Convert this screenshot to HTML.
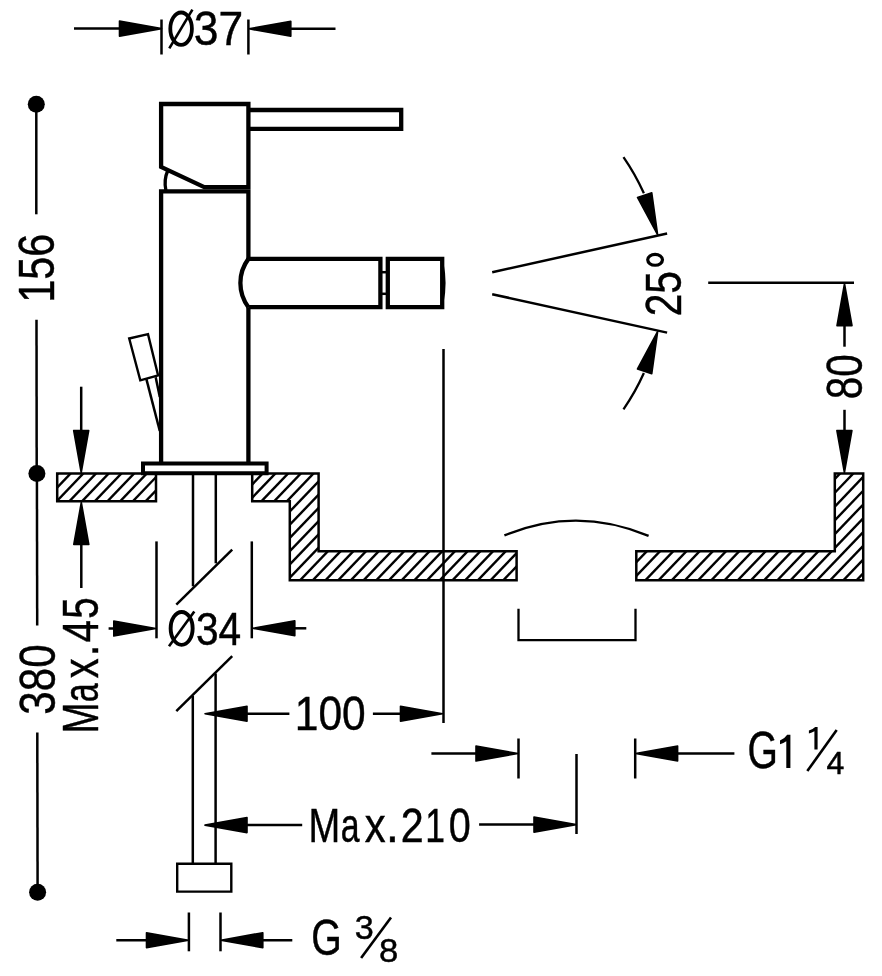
<!DOCTYPE html>
<html><head><meta charset="utf-8"><title>drawing</title>
<style>html,body{margin:0;padding:0;background:#fff;}body{width:882px;height:976px;overflow:hidden;font-family:"Liberation Sans",sans-serif;}svg{display:block;filter:grayscale(1);}</style>
</head><body>
<svg width="882" height="976" viewBox="0 0 882 976"><defs><clipPath id="c0"><polygon points="57.20,473.50 156.00,473.50 156.00,501.30 57.20,501.30"/></clipPath><clipPath id="c1"><polygon points="252.20,473.50 318.60,473.50 318.60,551.20 516.60,551.20 516.60,580.20 289.80,580.20 289.80,501.30 252.20,501.30"/></clipPath><clipPath id="c2"><polygon points="636.30,551.20 834.80,551.20 834.80,473.40 863.20,473.40 863.20,580.20 636.30,580.20"/></clipPath></defs><rect width="882" height="976" fill="#fff"/><g stroke="#000" fill="none" font-family="&quot;Liberation Sans&quot;, sans-serif"><line x1="74.00" y1="28.60" x2="130.00" y2="28.60" stroke-width="2.5" stroke-linecap="butt"/>
<polygon points="161.50,28.60 119.50,36.10 119.50,21.10" fill="#000" stroke-width="1.6" stroke-linejoin="round"/>
<line x1="161.50" y1="19.50" x2="161.50" y2="54.50" stroke-width="2.5" stroke-linecap="butt"/>
<line x1="248.40" y1="19.50" x2="248.40" y2="54.50" stroke-width="2.5" stroke-linecap="butt"/>
<polygon points="248.80,28.80 290.80,21.30 290.80,36.30" fill="#000" stroke-width="1.6" stroke-linejoin="round"/>
<line x1="280.00" y1="28.80" x2="335.50" y2="28.80" stroke-width="2.5" stroke-linecap="butt"/>
<ellipse cx="181.1" cy="28.7" rx="10.8" ry="16.2" stroke-width="3.8"/>
<line x1="169.30" y1="48.40" x2="192.40" y2="9.60" stroke-width="2.6" stroke-linecap="butt"/>
<text fill="#000" stroke="#000" stroke-width="0.45" transform="translate(193.81,45.30) scale(0.9286,1)" font-size="47.85">37</text>
<circle cx="36.3" cy="104.2" r="8.5" fill="#000" stroke="none"/>
<line x1="36.30" y1="104.00" x2="36.30" y2="214.30" stroke-width="2.5" stroke-linecap="butt"/>
<line x1="36.50" y1="319.80" x2="36.70" y2="473.00" stroke-width="2.5" stroke-linecap="butt"/>
<circle cx="36.9" cy="473.4" r="8.5" fill="#000" stroke="none"/>
<line x1="36.90" y1="473.00" x2="37.20" y2="625.50" stroke-width="2.5" stroke-linecap="butt"/>
<line x1="37.30" y1="732.60" x2="37.60" y2="892.00" stroke-width="2.5" stroke-linecap="butt"/>
<circle cx="37.6" cy="892.3" r="8.5" fill="#000" stroke="none"/>
<text fill="#000" stroke="#000" stroke-width="0.45" transform="translate(54.20,302.74) rotate(-90) scale(0.8198,1)" font-size="50.43">156</text>
<text fill="#000" stroke="#000" stroke-width="0.45" transform="translate(55.30,714.81) rotate(-90) scale(0.8305,1)" font-size="50.86">380</text>
<text fill="#000" stroke="#000" stroke-width="0.45" transform="translate(98.20,733.30) rotate(-90) scale(0.7452,1)" font-size="49.14">M</text>
<text fill="#000" stroke="#000" stroke-width="0.45" transform="translate(98.20,702.13) rotate(-90) scale(0.6928,1)" font-size="49.14">a</text>
<text fill="#000" stroke="#000" stroke-width="0.45" transform="translate(98.20,678.18) rotate(-90) scale(0.8063,1)" font-size="49.14">x</text>
<text fill="#000" stroke="#000" stroke-width="0.45" transform="translate(98.20,656.49) rotate(-90) scale(0.8691,1)" font-size="49.14">.</text>
<text fill="#000" stroke="#000" stroke-width="0.45" transform="translate(98.20,642.53) rotate(-90) scale(0.8237,1)" font-size="49.14">4</text>
<text fill="#000" stroke="#000" stroke-width="0.45" transform="translate(98.20,618.84) rotate(-90) scale(0.7857,1)" font-size="49.14">5</text>
<line x1="81.20" y1="386.70" x2="81.20" y2="432.00" stroke-width="2.5" stroke-linecap="butt"/>
<polygon points="81.20,472.50 73.70,430.50 88.70,430.50" fill="#000" stroke-width="1.6" stroke-linejoin="round"/>
<line x1="81.30" y1="543.00" x2="81.30" y2="588.00" stroke-width="2.5" stroke-linecap="butt"/>
<polygon points="81.30,502.50 88.80,544.50 73.80,544.50" fill="#000" stroke-width="1.6" stroke-linejoin="round"/>
<polyline points="248.40,129.00 248.40,104.00 161.10,104.00 161.10,167.00 204.30,187.10 248.40,187.10 248.40,129.00" fill="none" stroke-width="4.3" stroke-linejoin="miter"/>
<polyline points="248.40,110.00 401.20,110.00 401.20,128.80 248.40,128.80" fill="none" stroke-width="4.3" stroke-linejoin="miter"/>
<path d="M167.8,170.5 Q163.6,180 165.9,190.5" fill="none" stroke-width="3.3" />
<polyline points="161.10,463.50 161.10,191.40 248.40,191.40 248.40,258.90" fill="none" stroke-width="4.3" stroke-linejoin="miter"/>
<polyline points="248.40,307.20 248.40,463.50" fill="none" stroke-width="4.3" stroke-linejoin="miter"/>
<path d="M248.4,258.9 A40.4,40.4 0 0 0 248.4,307.2" fill="none" stroke-width="4.3" />
<polyline points="248.40,258.90 380.40,258.90 380.40,307.20 248.40,307.20" fill="none" stroke-width="4.3" stroke-linejoin="miter"/>
<polyline points="380.40,272.20 387.80,272.20" fill="none" stroke-width="2.5" stroke-linejoin="miter"/>
<polyline points="380.40,293.80 387.80,293.80" fill="none" stroke-width="2.5" stroke-linejoin="miter"/>
<polygon points="387.80,258.90 442.20,258.90 442.20,307.20 387.80,307.20 387.80,258.90" fill="none" stroke-width="4.3" stroke-linejoin="miter"/>
<path d="M442.4,264 Q446.2,283 442.4,302" fill="none" stroke-width="2.6" />
<polygon points="143.00,463.50 266.60,463.50 266.60,473.30 143.00,473.30" fill="none" stroke-width="4" stroke-linejoin="miter"/>
<polygon points="129.20,338.50 148.00,334.20 158.10,375.40 140.30,380.30" fill="none" stroke-width="2.4" stroke-linejoin="miter"/>
<line x1="146.40" y1="379.10" x2="159.80" y2="431.00" stroke-width="2.5" stroke-linecap="butt"/>
<line x1="155.70" y1="377.30" x2="159.80" y2="397.00" stroke-width="2.5" stroke-linecap="butt"/>
<g clip-path="url(#c0)" stroke-width="2.4"><line x1="16.64" y1="503.30" x2="47.10" y2="471.50"/><line x1="29.34" y1="503.30" x2="59.80" y2="471.50"/><line x1="42.04" y1="503.30" x2="72.50" y2="471.50"/><line x1="54.74" y1="503.30" x2="85.20" y2="471.50"/><line x1="67.44" y1="503.30" x2="97.90" y2="471.50"/><line x1="80.14" y1="503.30" x2="110.60" y2="471.50"/><line x1="92.84" y1="503.30" x2="123.30" y2="471.50"/><line x1="105.54" y1="503.30" x2="136.00" y2="471.50"/><line x1="118.24" y1="503.30" x2="148.70" y2="471.50"/><line x1="130.94" y1="503.30" x2="161.40" y2="471.50"/><line x1="143.64" y1="503.30" x2="174.10" y2="471.50"/><line x1="156.34" y1="503.30" x2="186.80" y2="471.50"/></g>
<polygon points="57.20,473.50 156.00,473.50 156.00,501.30 57.20,501.30" fill="none" stroke-width="2.5" stroke-linejoin="miter"/>
<g clip-path="url(#c1)" stroke-width="2.4"><line x1="145.85" y1="582.20" x2="251.90" y2="471.50"/><line x1="158.55" y1="582.20" x2="264.60" y2="471.50"/><line x1="171.25" y1="582.20" x2="277.30" y2="471.50"/><line x1="183.95" y1="582.20" x2="290.00" y2="471.50"/><line x1="196.65" y1="582.20" x2="302.70" y2="471.50"/><line x1="209.35" y1="582.20" x2="315.40" y2="471.50"/><line x1="222.05" y1="582.20" x2="328.10" y2="471.50"/><line x1="234.75" y1="582.20" x2="340.80" y2="471.50"/><line x1="247.45" y1="582.20" x2="353.50" y2="471.50"/><line x1="260.15" y1="582.20" x2="366.20" y2="471.50"/><line x1="272.85" y1="582.20" x2="378.90" y2="471.50"/><line x1="285.55" y1="582.20" x2="391.60" y2="471.50"/><line x1="298.25" y1="582.20" x2="404.30" y2="471.50"/><line x1="310.95" y1="582.20" x2="417.00" y2="471.50"/><line x1="323.65" y1="582.20" x2="429.70" y2="471.50"/><line x1="336.35" y1="582.20" x2="442.40" y2="471.50"/><line x1="349.05" y1="582.20" x2="455.10" y2="471.50"/><line x1="361.75" y1="582.20" x2="467.80" y2="471.50"/><line x1="374.45" y1="582.20" x2="480.50" y2="471.50"/><line x1="387.15" y1="582.20" x2="493.20" y2="471.50"/><line x1="399.85" y1="582.20" x2="505.90" y2="471.50"/><line x1="412.55" y1="582.20" x2="518.60" y2="471.50"/><line x1="425.25" y1="582.20" x2="531.30" y2="471.50"/><line x1="437.95" y1="582.20" x2="544.00" y2="471.50"/><line x1="450.65" y1="582.20" x2="556.70" y2="471.50"/><line x1="463.35" y1="582.20" x2="569.40" y2="471.50"/><line x1="476.05" y1="582.20" x2="582.10" y2="471.50"/><line x1="488.75" y1="582.20" x2="594.80" y2="471.50"/><line x1="501.45" y1="582.20" x2="607.50" y2="471.50"/><line x1="514.15" y1="582.20" x2="620.20" y2="471.50"/><line x1="526.85" y1="582.20" x2="632.90" y2="471.50"/></g>
<polygon points="252.20,473.50 318.60,473.50 318.60,551.20 516.60,551.20 516.60,580.20 289.80,580.20 289.80,501.30 252.20,501.30" fill="none" stroke-width="2.5" stroke-linejoin="miter"/>
<g clip-path="url(#c2)" stroke-width="2.4"><line x1="524.75" y1="582.20" x2="630.90" y2="471.40"/><line x1="537.95" y1="582.20" x2="644.10" y2="471.40"/><line x1="551.15" y1="582.20" x2="657.30" y2="471.40"/><line x1="564.35" y1="582.20" x2="670.50" y2="471.40"/><line x1="577.55" y1="582.20" x2="683.70" y2="471.40"/><line x1="590.75" y1="582.20" x2="696.90" y2="471.40"/><line x1="603.95" y1="582.20" x2="710.10" y2="471.40"/><line x1="617.15" y1="582.20" x2="723.30" y2="471.40"/><line x1="630.35" y1="582.20" x2="736.50" y2="471.40"/><line x1="643.55" y1="582.20" x2="749.70" y2="471.40"/><line x1="656.75" y1="582.20" x2="762.90" y2="471.40"/><line x1="669.95" y1="582.20" x2="776.10" y2="471.40"/><line x1="683.15" y1="582.20" x2="789.30" y2="471.40"/><line x1="696.35" y1="582.20" x2="802.50" y2="471.40"/><line x1="709.55" y1="582.20" x2="815.70" y2="471.40"/><line x1="722.75" y1="582.20" x2="828.90" y2="471.40"/><line x1="735.95" y1="582.20" x2="842.10" y2="471.40"/><line x1="749.15" y1="582.20" x2="855.30" y2="471.40"/><line x1="762.35" y1="582.20" x2="868.50" y2="471.40"/><line x1="775.55" y1="582.20" x2="881.70" y2="471.40"/><line x1="788.75" y1="582.20" x2="894.90" y2="471.40"/><line x1="801.95" y1="582.20" x2="908.10" y2="471.40"/><line x1="815.15" y1="582.20" x2="921.30" y2="471.40"/><line x1="828.35" y1="582.20" x2="934.50" y2="471.40"/><line x1="841.55" y1="582.20" x2="947.70" y2="471.40"/><line x1="854.75" y1="582.20" x2="960.90" y2="471.40"/><line x1="867.95" y1="582.20" x2="974.10" y2="471.40"/></g>
<polygon points="636.30,551.20 834.80,551.20 834.80,473.40 863.20,473.40 863.20,580.20 636.30,580.20" fill="none" stroke-width="2.5" stroke-linejoin="miter"/>
<line x1="193.00" y1="475.00" x2="193.00" y2="586.30" stroke-width="2.5" stroke-linecap="butt"/>
<line x1="215.80" y1="475.00" x2="215.80" y2="563.30" stroke-width="2.5" stroke-linecap="butt"/>
<line x1="176.30" y1="604.70" x2="232.20" y2="549.60" stroke-width="2.5" stroke-linecap="butt"/>
<line x1="176.30" y1="711.20" x2="232.20" y2="656.10" stroke-width="2.5" stroke-linecap="butt"/>
<line x1="192.80" y1="695.90" x2="192.80" y2="863.70" stroke-width="2.5" stroke-linecap="butt"/>
<line x1="215.60" y1="673.50" x2="215.60" y2="863.70" stroke-width="2.5" stroke-linecap="butt"/>
<polygon points="177.20,863.70 231.30,863.70 231.30,891.60 177.20,891.60" fill="none" stroke-width="2.4" stroke-linejoin="miter"/>
<line x1="156.50" y1="541.40" x2="156.50" y2="638.30" stroke-width="2.5" stroke-linecap="butt"/>
<line x1="251.80" y1="541.40" x2="251.80" y2="638.30" stroke-width="2.5" stroke-linecap="butt"/>
<line x1="108.60" y1="628.50" x2="120.00" y2="628.50" stroke-width="2.5" stroke-linecap="butt"/>
<polygon points="155.80,628.50 113.80,636.00 113.80,621.00" fill="#000" stroke-width="1.6" stroke-linejoin="round"/>
<polygon points="252.80,628.30 294.80,620.80 294.80,635.80" fill="#000" stroke-width="1.6" stroke-linejoin="round"/>
<line x1="290.00" y1="628.30" x2="306.30" y2="628.30" stroke-width="2.5" stroke-linecap="butt"/>
<ellipse cx="181.65" cy="628.4" rx="11.0" ry="16.45" stroke-width="3.9"/>
<line x1="169.00" y1="646.20" x2="194.30" y2="611.50" stroke-width="2.6" stroke-linecap="butt"/>
<text fill="#000" stroke="#000" stroke-width="0.45" transform="translate(195.95,645.00) scale(0.8843,1)" font-size="45.99">34</text>
<line x1="443.50" y1="349.00" x2="443.50" y2="723.00" stroke-width="2.5" stroke-linecap="butt"/>
<polygon points="205.00,713.70 247.00,706.20 247.00,721.20" fill="#000" stroke-width="1.6" stroke-linejoin="round"/>
<line x1="240.00" y1="713.70" x2="289.40" y2="713.70" stroke-width="2.5" stroke-linecap="butt"/>
<polygon points="442.50,713.70 400.50,721.20 400.50,706.20" fill="#000" stroke-width="1.6" stroke-linejoin="round"/>
<line x1="372.90" y1="713.70" x2="405.00" y2="713.70" stroke-width="2.5" stroke-linecap="butt"/>
<text fill="#000" stroke="#000" stroke-width="0.45" transform="translate(294.77,730.00) scale(0.8712,1)" font-size="48.85">100</text>
<line x1="518.50" y1="738.50" x2="518.50" y2="778.50" stroke-width="2.5" stroke-linecap="butt"/>
<line x1="635.20" y1="738.50" x2="635.20" y2="778.50" stroke-width="2.5" stroke-linecap="butt"/>
<line x1="431.40" y1="753.50" x2="480.00" y2="753.50" stroke-width="2.5" stroke-linecap="butt"/>
<polygon points="518.00,753.50 476.00,761.00 476.00,746.00" fill="#000" stroke-width="1.6" stroke-linejoin="round"/>
<polygon points="635.60,753.50 677.60,746.00 677.60,761.00" fill="#000" stroke-width="1.6" stroke-linejoin="round"/>
<line x1="670.00" y1="753.50" x2="734.40" y2="753.50" stroke-width="2.5" stroke-linecap="butt"/>
<text fill="#000" stroke="#000" stroke-width="0.45" transform="translate(747.45,768.40) scale(0.7593,1)" font-size="51.43">G</text>
<path d="M790.4,734.8 L790.4,767.9 L786.3,767.9 L786.3,741.2 Q783.5,743.4 780.0,744.2 L780.0,740.6 Q784.2,739.2 787.2,734.8 Z" fill="#000" stroke-width="0" />
<path d="M817.6,726.9 L817.6,749.6 L814.4,749.6 L814.4,731.2 Q812,732.8 808.9,733.4 L808.9,730.6 Q812.6,729.4 815.2,726.9 Z" fill="#000" stroke-width="0" />
<line x1="807.30" y1="771.10" x2="836.70" y2="730.00" stroke-width="2.6" stroke-linecap="butt"/>
<text fill="#000" stroke="#000" stroke-width="0.45" transform="translate(826.56,774.00) scale(0.9961,1)" font-size="32.27">4</text>
<line x1="576.50" y1="754.00" x2="576.50" y2="834.00" stroke-width="2.5" stroke-linecap="butt"/>
<polygon points="205.00,825.10 247.00,817.60 247.00,832.60" fill="#000" stroke-width="1.6" stroke-linejoin="round"/>
<line x1="240.00" y1="825.10" x2="302.20" y2="825.10" stroke-width="2.5" stroke-linecap="butt"/>
<polygon points="576.00,824.60 534.00,832.10 534.00,817.10" fill="#000" stroke-width="1.6" stroke-linejoin="round"/>
<line x1="479.10" y1="824.60" x2="540.00" y2="824.60" stroke-width="2.5" stroke-linecap="butt"/>
<text fill="#000" stroke="#000" stroke-width="0.45" transform="translate(308.47,842.00) scale(0.7825,1)" font-size="48.71">M</text>
<text fill="#000" stroke="#000" stroke-width="0.45" transform="translate(340.78,842.00) scale(0.6950,1)" font-size="48.71">a</text>
<text fill="#000" stroke="#000" stroke-width="0.45" transform="translate(364.70,842.00) scale(0.8565,1)" font-size="48.71">x</text>
<text fill="#000" stroke="#000" stroke-width="0.45" transform="translate(385.84,842.00) scale(0.9837,1)" font-size="48.71">.</text>
<text fill="#000" stroke="#000" stroke-width="0.45" transform="translate(400.84,842.00) scale(0.8464,1)" font-size="48.71">2</text>
<text fill="#000" stroke="#000" stroke-width="0.45" transform="translate(425.20,842.00) scale(0.7288,1)" font-size="48.71">1</text>
<text fill="#000" stroke="#000" stroke-width="0.45" transform="translate(448.76,842.00) scale(0.8117,1)" font-size="48.71">0</text>
<line x1="188.90" y1="912.50" x2="188.90" y2="951.30" stroke-width="2.5" stroke-linecap="butt"/>
<line x1="220.50" y1="912.50" x2="220.50" y2="951.30" stroke-width="2.5" stroke-linecap="butt"/>
<line x1="116.30" y1="940.20" x2="150.00" y2="940.20" stroke-width="2.5" stroke-linecap="butt"/>
<polygon points="188.50,940.20 146.50,947.70 146.50,932.70" fill="#000" stroke-width="1.6" stroke-linejoin="round"/>
<polygon points="220.80,940.20 262.80,932.70 262.80,947.70" fill="#000" stroke-width="1.6" stroke-linejoin="round"/>
<line x1="255.00" y1="940.20" x2="292.30" y2="940.20" stroke-width="2.5" stroke-linecap="butt"/>
<text fill="#000" stroke="#000" stroke-width="0.45" transform="translate(311.14,955.00) scale(0.7752,1)" font-size="50.57">G</text>
<text fill="#000" stroke="#000" stroke-width="0.45" transform="translate(354.80,938.50) scale(1.0417,1)" font-size="32.81">3</text>
<line x1="361.10" y1="958.00" x2="391.00" y2="917.50" stroke-width="2.6" stroke-linecap="butt"/>
<text fill="#000" stroke="#000" stroke-width="0.45" transform="translate(378.91,962.20) scale(1.0301,1)" font-size="33.67">8</text>
<line x1="492.20" y1="272.20" x2="667.10" y2="233.50" stroke-width="2.5" stroke-linecap="butt"/>
<line x1="492.20" y1="294.20" x2="667.10" y2="332.60" stroke-width="2.5" stroke-linecap="butt"/>
<path d="M623.47,157.07 A221.0,221.0 0 0 1 643.89,193.31" fill="none" stroke-width="2.3" />
<polygon points="657.68,234.99 637.50,197.40 651.76,192.74" fill="#000" stroke-width="1.6" stroke-linejoin="round"/>
<path d="M623.47,409.33 A221.0,221.0 0 0 0 643.89,373.09" fill="none" stroke-width="2.3" />
<polygon points="657.68,331.41 651.76,373.66 637.50,369.00" fill="#000" stroke-width="1.6" stroke-linejoin="round"/>
<text fill="#000" stroke="#000" stroke-width="0.45" transform="translate(681.20,316.34) rotate(-90) scale(0.8110,1)" font-size="50.29">25</text>
<ellipse cx="655.1" cy="259.85" rx="7.4" ry="5.4" stroke-width="3.2"/>
<line x1="708.20" y1="282.80" x2="854.00" y2="282.80" stroke-width="2.5" stroke-linecap="butt"/>
<polygon points="844.50,283.70 852.00,325.70 837.00,325.70" fill="#000" stroke-width="1.6" stroke-linejoin="round"/>
<line x1="844.50" y1="320.00" x2="844.50" y2="346.70" stroke-width="2.5" stroke-linecap="butt"/>
<line x1="844.50" y1="409.80" x2="844.50" y2="440.00" stroke-width="2.5" stroke-linecap="butt"/>
<polygon points="844.40,472.60 836.90,430.60 851.90,430.60" fill="#000" stroke-width="1.6" stroke-linejoin="round"/>
<text fill="#000" stroke="#000" stroke-width="0.45" transform="translate(862.00,399.14) rotate(-90) scale(0.7983,1)" font-size="50.72">80</text>
<path d="M504.4,535.4 Q576.5,505.5 648.6,535.9" fill="none" stroke-width="2.3" />
<polyline points="518.50,608.80 518.50,640.10 635.50,640.10 635.50,608.80" fill="none" stroke-width="2.3" stroke-linejoin="miter"/></g></svg>
</body></html>
